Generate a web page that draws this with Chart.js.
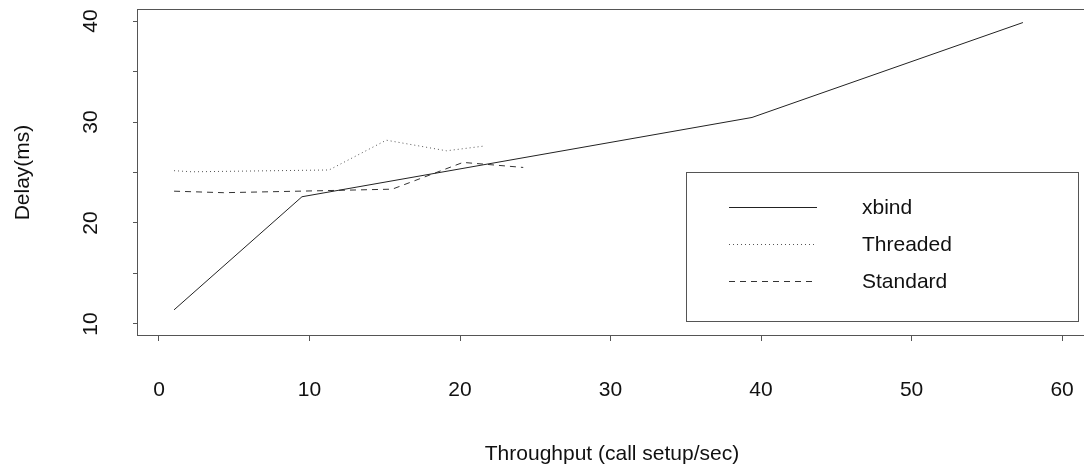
<!DOCTYPE html>
<html>
<head>
<meta charset="utf-8">
<title>Delay vs Throughput</title>
<script src="https://cdn.jsdelivr.net/npm/chart.js@4/dist/chart.umd.min.js"></script>
<style>
  html, body { margin: 0; padding: 0; background: #fff; overflow: hidden; }
  canvas { display: block; }
</style>
</head>
<body>
<canvas id="chart" width="1090" height="465"></canvas>
<script>
// series (throughput in call setup/sec, delay in ms)
const seriesNames = ["xbind", "Threaded", "Standard"];
const xbindX = [1.0, 9.5, 39.4, 57.4];
const xbindY = [11.4, 22.6, 30.45, 39.85];
const threadedX = [1.0, 2.2, 11.3, 15.1, 19.1, 21.5];
const threadedY = [25.18, 25.07, 25.25, 28.2, 27.15, 27.6];
const standardX = [1.0, 4.3, 10.9, 15.5, 20.2, 24.2];
const standardY = [23.15, 23.0, 23.2, 23.35, 26.0, 25.5];

const xTickLabels = [0, 10, 20, 30, 40, 50, 60];
const yTickLabels = [10, 20, 30, 40];

const FONT = "'Liberation Sans', Arial, Helvetica, sans-serif";
const INK = "#111";
const FRAME = "#555";

function toPoints(xs, ys) {
  return xs.map((x, i) => ({ x: x, y: ys[i] }));
}

const styles = [
  { color: "#222", dash: [] },
  { color: "#555", dash: [1, 3] },
  { color: "#333", dash: [6, 5] }
];

const datasets = [
  toPoints(xbindX, xbindY),
  toPoints(threadedX, threadedY),
  toPoints(standardX, standardY)
].map((pts, i) => ({
  label: seriesNames[i],
  data: pts,
  borderColor: styles[i].color,
  borderDash: styles[i].dash,
  borderWidth: 1,
  pointRadius: 0,
  tension: 0,
  fill: false
}));

// box round the plot region (its right side runs off the page) plus the legend box
const framePlugin = {
  id: "frameAndLegend",
  afterDraw(chart) {
    const { ctx, chartArea: a } = chart;
    ctx.save();
    ctx.strokeStyle = FRAME;
    ctx.lineWidth = 1;
    ctx.setLineDash([]);
    ctx.strokeRect(Math.round(a.left) - 0.5, Math.round(a.top) + 0.5,
      Math.round(a.right - a.left) + 1, Math.round(a.bottom - a.top) - 1);

    // legend
    ctx.strokeRect(686.5, 172.5, 392, 149);
    const rows = [207, 244, 281];
    ctx.font = "21px " + FONT;
    ctx.textBaseline = "middle";
    ctx.textAlign = "left";
    chart.data.datasets.forEach((ds, i) => {
      const y = rows[i] + 0.5;
      ctx.strokeStyle = ds.borderColor;
      ctx.setLineDash(ds.borderDash);
      ctx.beginPath();
      ctx.moveTo(729, y);
      ctx.lineTo(817, y);
      ctx.stroke();
      ctx.fillStyle = INK;
      ctx.fillText(ds.label, 862, rows[i] + 1);
    });
    ctx.restore();
  }
};

new Chart(document.getElementById("chart"), {
  type: "line",
  data: { datasets: datasets },
  options: {
    responsive: false,
    animation: false,
    devicePixelRatio: 1,
    layout: { padding: { top: 9, right: 4, left: 0, bottom: 0 } },
    plugins: {
      legend: { display: false },
      tooltip: { enabled: false }
    },
    scales: {
      x: {
        type: "linear",
        min: -1.395,
        max: 61.59,
        border: { display: false },
        grid: { drawOnChartArea: false, drawTicks: true, tickLength: 5, color: FRAME },
        ticks: {
          stepSize: 10,
          includeBounds: false,
          padding: 37,
          color: INK,
          font: { family: FONT, size: 21 },
          maxRotation: 0,
          callback: v => xTickLabels.includes(v) ? String(v) : ""
        },
        title: {
          display: true,
          text: "Throughput (call setup/sec)",
          color: INK,
          font: { family: FONT, size: 21, lineHeight: 1 },
          padding: { top: 0, bottom: 0.5 }
        },
        afterFit(scale) {
          scale.height = 129;
          scale.paddingLeft = 0;
          scale.paddingRight = 0;
        }
      },
      y: {
        type: "linear",
        min: 8.81,
        max: 41.19,
        border: { display: false },
        grid: { drawOnChartArea: false, drawTicks: true, tickLength: 5, color: FRAME },
        ticks: {
          stepSize: 5,
          includeBounds: false,
          padding: 30,
          crossAlign: "center",
          minRotation: 90,
          maxRotation: 90,
          color: INK,
          font: { family: FONT, size: 21 },
          callback: v => yTickLabels.includes(v) ? String(v) : ""
        },
        title: {
          display: true,
          text: "Delay(ms)",
          color: INK,
          font: { family: FONT, size: 21, lineHeight: 1 },
          padding: { top: 13, bottom: 0 }
        },
        afterFit(scale) {
          scale.width = 138;
          scale.paddingTop = 0;
          scale.paddingBottom = 0;
        }
      }
    }
  },
  plugins: [framePlugin]
});
</script>
</body>
</html>
